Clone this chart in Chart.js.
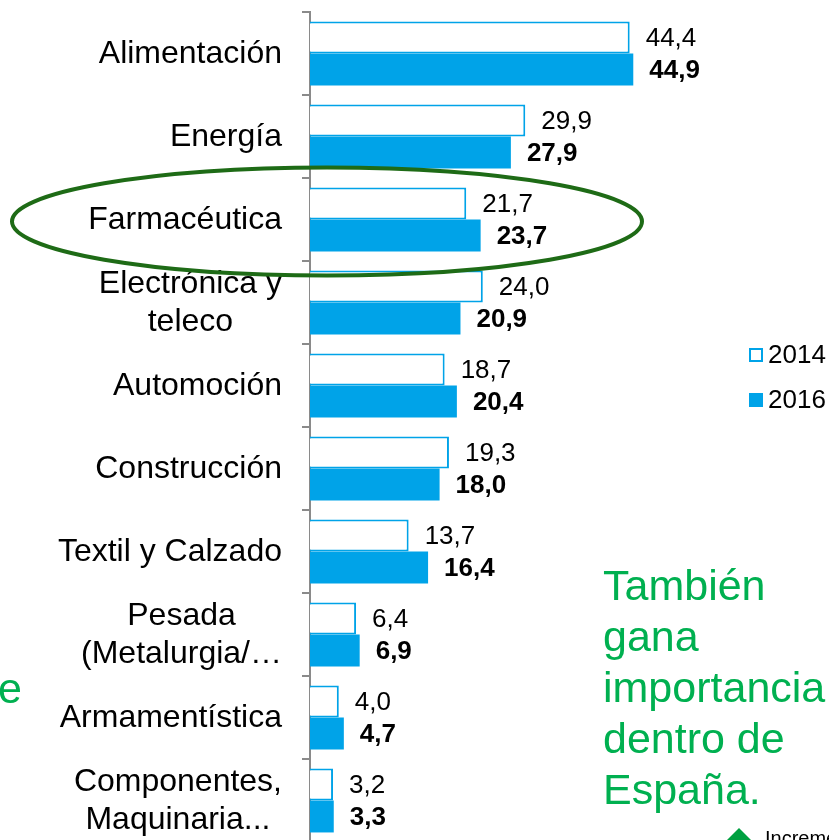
<!DOCTYPE html>
<html>
<head>
<meta charset="utf-8">
<script src="https://cdn.jsdelivr.net/npm/chart.js@4"></script>
<style>
  html, body { margin: 0; padding: 0; background: #fff; overflow: hidden; }
  #wrap { width: 829px; height: 860px; }
</style>
</head>
<body>
<div id="wrap"><canvas id="sectorChart" width="829" height="860"></canvas></div>
<script>
// ----- DATA -----
const categories = ['Alimentación', 'Energía', 'Farmacéutica', ['Electrónica y', 'teleco'], 'Automoción',
  'Construcción', 'Textil y Calzado', ['Pesada', '(Metalurgia/…'], 'Armamentística', ['Componentes,', 'Maquinaria...']];
const values2014 = [44.4, 29.9, 21.7, 24.0, 18.7, 19.3, 13.7, 6.4, 4.0, 3.2];
const values2016 = [44.9, 27.9, 23.7, 20.9, 20.4, 18.0, 16.4, 6.9, 4.7, 3.3];
const seriesLabels = ['2014', '2016'];
const calloutLines = ['También', 'gana', 'importancia', 'dentro de', 'España.'];
const highlighted = 'Farmacéutica';

const FONT = '"Liberation Sans", Arial, sans-serif';
const BLUE = '#00a3e8';
const GREEN = '#00b050';
const AXIS = '#8a8a8a';

const fmt = v => v.toFixed(1).replace('.', ',');

// ----- extra drawing (labels, legend, annotations) -----
const decorPlugin = {
  id: 'decor',
  afterDatasetsDraw(chart) {
    const ctx = chart.ctx;
    ctx.save();
    // value labels
    ctx.textBaseline = 'middle';
    ctx.textAlign = 'left';
    chart.data.datasets.forEach((ds, di) => {
      const meta = chart.getDatasetMeta(di);
      ctx.font = (di === 1 ? 'bold ' : '') + '26px ' + FONT;
      ctx.fillStyle = '#000';
      meta.data.forEach((el, i) => {
        ctx.fillText(fmt(ds.data[i]), el.x + 16, el.y + 1);
      });
    });

    // category labels (lines centred on each other, block right-aligned to the axis)
    const yScale = chart.scales.y;
    ctx.font = '32px ' + FONT;
    ctx.textAlign = 'center';
    categories.forEach((c, i) => {
      const lines = Array.isArray(c) ? c : [c];
      const w = Math.max(...lines.map(l => ctx.measureText(l).width));
      const cx = 282 - w / 2;
      const yc = yScale.getPixelForValue(i) + 1;
      lines.forEach((l, j) => {
        ctx.fillText(l, cx, yc + (j - (lines.length - 1) / 2) * 38);
      });
    });
    ctx.restore();
  },
  afterDraw(chart) {
    const ctx = chart.ctx;
    ctx.save();

    // legend
    ctx.font = '26px ' + FONT;
    ctx.textAlign = 'left';
    ctx.textBaseline = 'middle';
    seriesLabels.forEach((s, i) => {
      const y = 355 + i * 45;
      if (i === 0) {
        ctx.fillStyle = '#fff';
        ctx.fillRect(749, y - 7, 14, 14);
        ctx.strokeStyle = BLUE;
        ctx.lineWidth = 2;
        ctx.strokeRect(750, y - 6, 12, 12);
      } else {
        ctx.fillStyle = BLUE;
        ctx.fillRect(749, y - 7, 14, 14);
      }
      ctx.fillStyle = '#000';
      ctx.fillText(s, 768, y + 1);
    });

    // green callout text
    ctx.fillStyle = GREEN;
    ctx.font = '43px ' + FONT;
    ctx.textBaseline = 'alphabetic';
    calloutLines.forEach((l, i) => ctx.fillText(l, 603, 600 + i * 51));
    ctx.fillText('e', -2, 703);

    // ellipse around highlighted sector
    const yScale = chart.scales.y;
    const hi = categories.indexOf(highlighted);
    const ey = yScale.getPixelForValue(hi) + 2;
    ctx.strokeStyle = '#1e6b16';
    ctx.lineWidth = 4;
    ctx.beginPath();
    ctx.ellipse(327, ey, 315, 54, 0, 0, Math.PI * 2);
    ctx.stroke();

    // partial note at bottom right
    ctx.fillStyle = '#00a040';
    ctx.beginPath();
    ctx.moveTo(739, 828);
    ctx.lineTo(751, 840);
    ctx.lineTo(739, 852);
    ctx.lineTo(727, 840);
    ctx.closePath();
    ctx.fill();
    ctx.fillStyle = '#000';
    ctx.font = '20px ' + FONT;
    ctx.textBaseline = 'top';
    ctx.fillText('Incremento', 765, 829);

    ctx.restore();
  }
};

// ----- CHART -----
const ctx = document.getElementById('sectorChart').getContext('2d');
new Chart(ctx, {
  type: 'bar',
  data: {
    labels: categories,
    datasets: [{
      label: seriesLabels[0],
      data: values2014,
      backgroundColor: '#fff',
      borderColor: BLUE,
      borderWidth: 2,
      borderSkipped: 'left',
    }, {
      label: seriesLabels[1],
      data: values2016,
      backgroundColor: BLUE,
      borderWidth: 0,
    }]
  },
  options: {
    indexAxis: 'y',
    responsive: false,
    animation: false,
    devicePixelRatio: 1,
    categoryPercentage: 0.77,
    barPercentage: 1,
    layout: { padding: { top: 12, bottom: 18, left: 0, right: 87 } },
    plugins: {
      legend: { display: false },
      tooltip: { enabled: false },
    },
    scales: {
      x: {
        display: false,
        min: 0,
        max: 60,
      },
      y: {
        grid: { drawOnChartArea: false, drawTicks: true, tickLength: 8, color: AXIS, lineWidth: 2 },
        border: { color: AXIS, width: 2 },
        ticks: { display: false },
        afterFit(scale) { scale.width = 310; }
      }
    }
  },
  plugins: [decorPlugin]
});
</script>
</body>
</html>
